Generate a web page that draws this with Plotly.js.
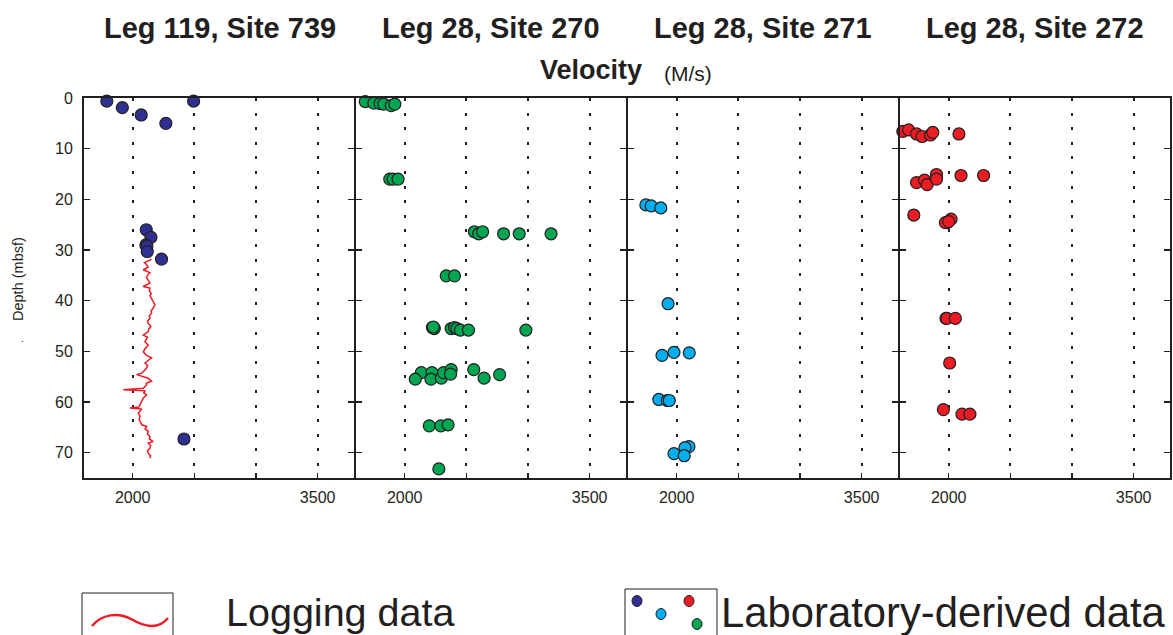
<!DOCTYPE html>
<html>
<head>
<meta charset="utf-8">
<script src="https://cdn.plot.ly/plotly-3.0.1.min.js"></script>
<style>html,body{margin:0;padding:0;background:#fff;}#chart{width:1173px;height:635px;}</style>
</head>
<body>
<div id="chart"></div>
<script>
// ---------- data ----------
const siteTitles = ["Leg 119, Site 739", "Leg 28, Site 270", "Leg 28, Site 271", "Leg 28, Site 272"];
const velTickVals = [2000, 2500, 3000, 3500];
const velTickText = ["2000", "", "", "3500"];
const depthTickVals = [0, 10, 20, 30, 40, 50, 60, 70];

// Leg 119, Site 739 laboratory
const vel739 = [1790, 1916, 2069, 2269, 2494, 2110, 2148, 2107, 2115, 2118, 2234, 2416];
const dep739 = [0.6, 1.9, 3.35, 5.0, 0.6, 26.0, 27.5, 29.0, 29.2, 30.3, 31.8, 67.3];

// Leg 119, Site 739 logging
const logDep739 = [31.8,32.0,32.5,32.9,33.4,33.9,34.5,35.0,35.5,36.0,36.5,37.2,37.5,38.0,38.6,39.0,39.5,40.2,40.8,41.5,
  42.0,42.5,43.0,43.5,44.0,44.5,45.1,45.6,46.1,46.8,47.2,47.5,48.1,48.8,49.5,50.1,50.8,51.3,51.8,52.3,
  52.8,53.3,53.8,54.3,54.6,55.0,55.3,55.9,56.3,56.6,57.0,57.3,57.6,57.8,58.2,58.6,59.2,59.9,60.5,61.0,
  61.2,61.4,61.8,62.2,62.8,63.5,64.0,64.5,64.8,65.3,65.8,66.3,66.8,67.3,67.8,68.1,68.6,69.1,69.6,70.1,70.6,71.1];
const logVel739 = [2150,2140,2095,2113,2125,2086,2140,2120,2113,2130,2140,2085,2140,2135,2150,2140,2153,2170,2180,2166,
  2150,2153,2135,2140,2120,2126,2148,2130,2126,2086,2120,2113,2100,2126,2100,2086,2113,2153,2130,2100,
  2120,2113,2095,2073,2032,2080,2126,2153,2110,2113,2095,2086,1924,2100,2090,2113,2086,2073,2060,2050,
  1978,2073,2060,2045,2060,2052,2065,2073,2113,2100,2126,2120,2140,2135,2166,2126,2145,2140,2120,2126,2145,2140];

// Leg 28, Site 270
const vel270 = [1680,1750,1800,1830,1890,1920, 1879,1906,1946, 2565,2600,2632,2802,2929,3187, 2337,2404,
  2225,2240,2232,2377,2404,2423,2452,2517,2983, 2135,2086,2221,2213,2297,2315,2377,2372,2560,2644,2770,
  2199,2293,2352, 2277];
const dep270 = [0.7,1.0,1.1,1.2,1.5,1.2, 16.0,16.0,16.0, 26.4,26.8,26.4,26.8,26.8,26.8, 35.1,35.1,
  45.3,45.5,45.2,45.5,45.3,45.5,45.8,45.8,45.8, 54.2,55.5,54.2,55.5,55.3,54.2,53.6,54.5,53.6,55.3,54.6,
  64.7,64.7,64.5, 73.2];

// Leg 28, Site 271
const vel271 = [1750,1793,1871, 1930, 1881,1978,2102, 1855,1924,1940, 2099,2067,1978,2061];
const dep271 = [21.1,21.3,21.7, 40.6, 50.8,50.2,50.3, 59.5,59.7,59.7, 68.8,69.0,70.2,70.6];

// Leg 28, Site 272
const vel272 = [1628,1675,1739,1784,1852,1871,2083, 1604,1739,1804,1825,1901,1901,2100,2283,
  1717,2019,1987,1973,2000, 1978,1985,2054, 2008, 1957,2108,2172];
const dep272 = [6.6,6.3,7.1,7.6,7.3,6.8,7.1, 14.3,16.7,16.2,17.1,15.1,16.0,15.3,15.3,
  23.1,23.9,24.6,24.6,24.4, 43.5,43.5,43.5, 52.3, 61.5,62.4,62.4];

// ---------- styling ----------
const W = 1173, H = 635;
const INK = '#231f20';
const FONT = 'Liberation Sans, Arial, Helvetica, sans-serif';
const colors = {navy:'#2e3192', green:'#00a651', cyan:'#00aeef', red:'#ed1c24'};
const px = x => x / W;
const py = y => 1 - y / H;

const LW = 2;
const panelEdges = [84, 355, 627, 899, 1170];
const yDom = [py(478), py(98)];

function labTrace(v, d, color, n) {
  return {x: v, y: d, type: 'scatter', mode: 'markers', xaxis: 'x' + (n === 1 ? '' : n), yaxis: 'y' + (n === 1 ? '' : n),
    cliponaxis: false, hoverinfo: 'x+y',
    marker: {size: 12, color: color, line: {color: INK, width: 1.2}}, showlegend: false};
}

const traces = [
  {x: logVel739, y: logDep739, type: 'scatter', mode: 'lines', xaxis: 'x', yaxis: 'y',
   line: {color: colors.red, width: 1.5}, showlegend: false},
  labTrace(vel739, dep739, colors.navy, 1),
  labTrace(vel270, dep270, colors.green, 2),
  labTrace(vel271, dep271, colors.cyan, 3),
  labTrace(vel272, dep272, colors.red, 4)
];

const layout = {
  width: W, height: H, margin: {l: 0, r: 0, t: 0, b: 0},
  paper_bgcolor: '#fff', plot_bgcolor: 'rgba(0,0,0,0)',
  showlegend: false, font: {family: FONT, color: INK},
  annotations: [], shapes: []
};

for (let i = 0; i < 4; i++) {
  const n = i + 1, s = n === 1 ? '' : String(n);
  const left = panelEdges[i] + (i === 0 ? 0 : LW / 2);
  const right = panelEdges[i + 1] - (i === 3 ? 0 : LW / 2);
  layout['xaxis' + s] = {
    domain: [px(left), px(right)], anchor: 'y' + s,
    range: [1605, 3795], tickmode: 'array', tickvals: velTickVals, ticktext: velTickText,
    ticks: 'inside', ticklen: 5, tickwidth: 1.3, tickcolor: INK,
    showline: true, linecolor: INK, linewidth: LW, mirror: true,
    showgrid: true, gridcolor: INK, gridwidth: 2.2, griddash: '3px,11.6px',
    zeroline: false, automargin: false, ticklabelstandoff: 4,
    tickfont: {family: FONT, size: 16, color: INK}, fixedrange: true
  };
  layout['yaxis' + s] = {
    domain: yDom, anchor: 'x' + s, range: [75, 0],
    tickmode: 'array', tickvals: depthTickVals,
    ticks: 'inside', ticklen: 6, tickwidth: 1.3, tickcolor: INK,
    showline: true, linecolor: INK, linewidth: LW, mirror: 'ticks',
    showgrid: false, zeroline: false, showticklabels: n === 1, automargin: false,
    ticklabelstandoff: 6,
    tickfont: {family: FONT, size: 16, color: INK}, fixedrange: true
  };
  layout.annotations.push({
    text: '<b>' + siteTitles[i] + '</b>', xref: 'paper', yref: 'paper',
    x: px((panelEdges[i] + panelEdges[i + 1]) / 2), y: py(28), xanchor: 'center', yanchor: 'middle',
    showarrow: false, font: {family: FONT, size: 29, color: INK}
  });
}

layout.annotations.push(
  {text: '<b>Velocity</b>', xref: 'paper', yref: 'paper', x: px(644), y: py(70), xanchor: 'right', yanchor: 'middle',
   showarrow: false, font: {family: FONT, size: 27, color: INK}},
  {text: '(M/s)', xref: 'paper', yref: 'paper', x: px(662), y: py(74), xanchor: 'left', yanchor: 'middle',
   showarrow: false, font: {family: FONT, size: 21, color: INK}},
  {text: 'Depth (mbsf)', xref: 'paper', yref: 'paper', x: px(18), y: py(279), xanchor: 'center', yanchor: 'middle',
   textangle: -90, showarrow: false, font: {family: FONT, size: 14.5, color: INK}},
  {text: '.', xref: 'paper', yref: 'paper', x: px(22), y: py(338), xanchor: 'center', yanchor: 'middle',
   showarrow: false, font: {family: FONT, size: 10, color: INK}},
  {text: 'Logging data', xref: 'paper', yref: 'paper', x: px(224), y: py(612), xanchor: 'left', yanchor: 'middle',
   showarrow: false, font: {family: FONT, size: 39.5, color: INK}},
  {text: 'Laboratory-derived data', xref: 'paper', yref: 'paper', x: px(719), y: py(612), xanchor: 'left', yanchor: 'middle',
   showarrow: false, font: {family: FONT, size: 41.8, color: INK}}
);

// legend boxes and glyphs
layout.shapes.push(
  {type: 'rect', xref: 'paper', yref: 'paper', x0: px(82), x1: px(173), y0: py(645), y1: py(593),
   line: {color: INK, width: 1}, fillcolor: 'rgba(0,0,0,0)'},
  {type: 'rect', xref: 'paper', yref: 'paper', x0: px(625), x1: px(717), y0: py(645), y1: py(589),
   line: {color: INK, width: 1}, fillcolor: 'rgba(0,0,0,0)'},
  {type: 'path', xref: 'paper', yref: 'paper',
   path: 'M ' + px(92) + ' ' + py(626) + ' C ' + px(102) + ' ' + py(614) + ', ' + px(118) + ' ' + py(612) + ', ' + px(131) + ' ' + py(619) +
         ' C ' + px(145) + ' ' + py(627) + ', ' + px(158) + ' ' + py(630) + ', ' + px(168) + ' ' + py(618),
   line: {color: colors.red, width: 2.5}}
);
const legendDots = [[637, 601, colors.navy], [661, 614, colors.cyan], [689, 601, colors.red], [697, 624, colors.green]];
legendDots.forEach(([cx, cy, c]) => {
  layout.shapes.push({type: 'circle', xref: 'paper', yref: 'paper',
    x0: px(cx - 5), x1: px(cx + 5), y0: py(cy + 5.5), y1: py(cy - 5.5),
    fillcolor: c, line: {color: INK, width: 1}});
});

Plotly.newPlot('chart', traces, layout, {staticPlot: true, displayModeBar: false});
</script>
</body>
</html>
